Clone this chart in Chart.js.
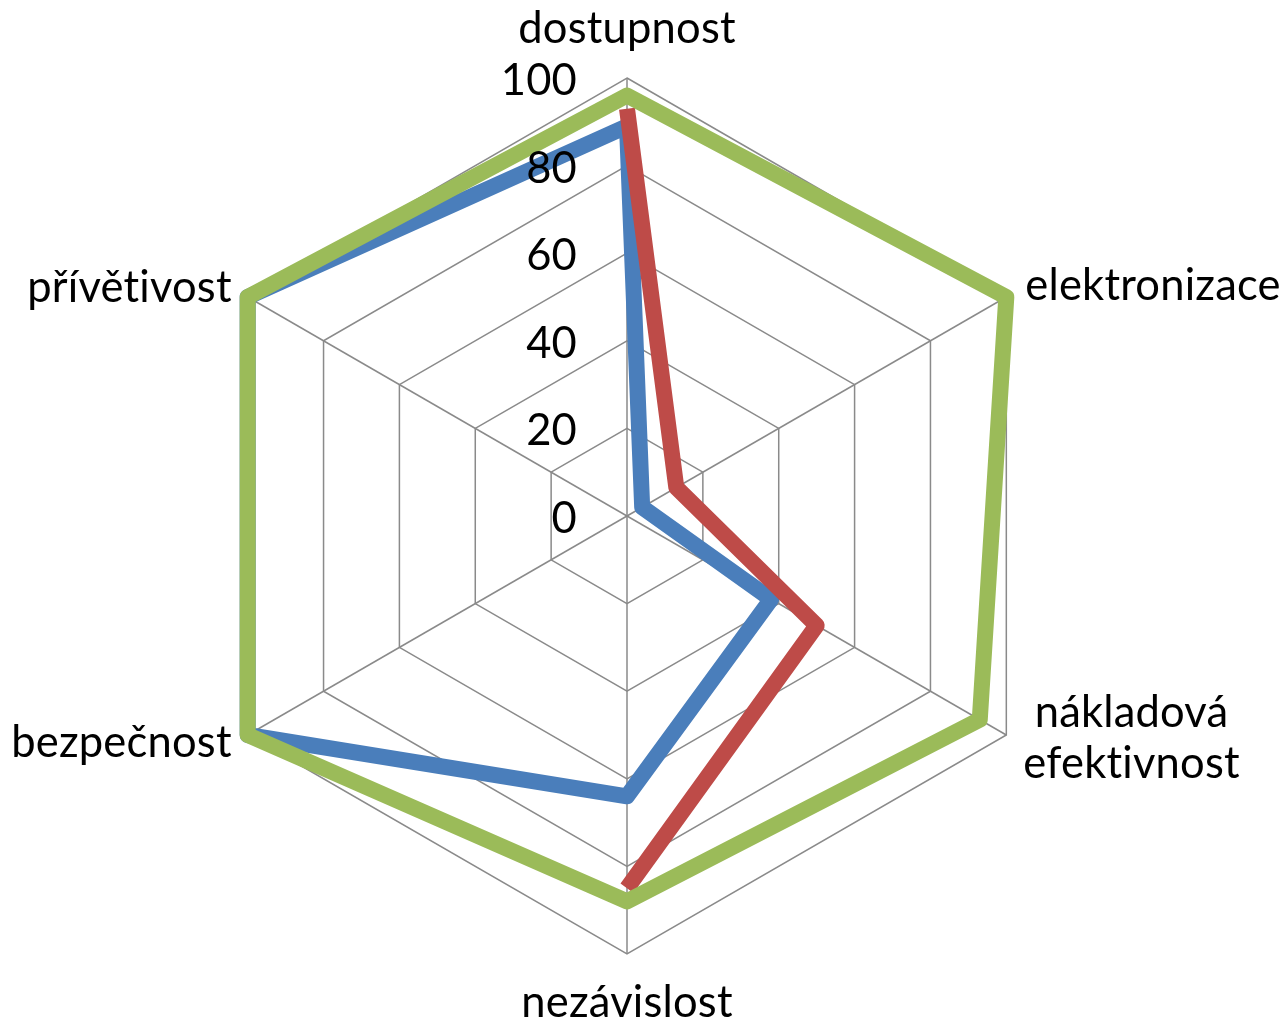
<!DOCTYPE html>
<html>
<head>
<meta charset="utf-8">
<script src="https://cdn.jsdelivr.net/npm/chart.js@4/dist/chart.umd.min.js"></script>
<style>
html,body{margin:0;padding:0;background:#fff;}
#wrap{width:1288px;height:1031px;}
</style>
</head>
<body>
<div id="wrap"><canvas id="c" width="1288" height="1031"></canvas></div>
<script>
const categories = ["dostupnost", "elektronizace", ["nákladová", "efektivnost"], "nezávislost", "bezpečnost", "přívětivost"];
const seriesBlue = [89, 4, 38, 64, 100, 100];
const seriesRed = [93, 13, 50, 85, null, null];
const seriesGreen = [96, 100, 93, 88, 100, 100];
const tickValues = [0, 20, 40, 60, 80, 100];

const FONT = "Lato, 'Noto Sans', sans-serif";
const FS = 43.5;

const labelPlugin = {
  id: 'customLabels',
  afterDraw(chart) {
    const s = chart.scales.r;
    const ctx = chart.ctx;
    ctx.save();
    ctx.fillStyle = '#000';
    ctx.font = FS + 'px ' + FONT;
    if ('letterSpacing' in ctx) ctx.letterSpacing = '0.2px';
    // tick labels
    ctx.textAlign = 'right';
    ctx.textBaseline = 'middle';
    tickValues.forEach(v => {
      const d = s.getDistanceFromCenterForValue(v);
      ctx.fillText(String(v), s.xCenter - 50, s.yCenter - d + 3);
    });
    // point labels
    const R = s.drawingArea;
    const offs = [
      {dx: 0, dy: -35, align: 'center'},
      {dx: 19, dy: 3, align: 'left'},
      {dx: 17, dy: -8, align: 'center-block'},
      {dx: 0, dy: 63, align: 'center'},
      {dx: -16, dy: 22, align: 'right'},
      {dx: -16, dy: 5, align: 'right'}
    ];
    ctx.textBaseline = 'alphabetic';
    categories.forEach((lab, i) => {
      const p = s.getPointPosition(i, R);
      const o = offs[i];
      const lines = Array.isArray(lab) ? lab : [lab];
      if (o.align === 'center-block') {
        const w = Math.max(...lines.map(l => ctx.measureText(l).width));
        ctx.textAlign = 'center';
        lines.forEach((l, k) => ctx.fillText(l, p.x + o.dx + w / 2, p.y + o.dy + k * 51));
      } else {
        ctx.textAlign = o.align;
        lines.forEach((l, k) => ctx.fillText(l, p.x + o.dx, p.y + o.dy + k * 51));
      }
    });
    ctx.restore();
  }
};

const common = {borderWidth: 16, pointRadius: 0, pointHoverRadius: 0, fill: false, tension: 0, borderJoinStyle: 'round', borderCapStyle: 'butt', spanGaps: false};

new Chart(document.getElementById('c'), {
  type: 'radar',
  data: {
    labels: categories,
    datasets: [
      Object.assign({label: 'A', data: seriesBlue, borderColor: '#4A7EBB', order: 3}, common),
      Object.assign({label: 'B', data: seriesRed, borderColor: '#BE4B48', order: 2}, common),
      Object.assign({label: 'C', data: seriesGreen, borderColor: '#9BBB59', order: 1}, common)
    ]
  },
  options: {
    responsive: false,
    animation: false,
    layout: {padding: {left: 189, right: 223, top: 78, bottom: 77}},
    plugins: {legend: {display: false}, tooltip: {enabled: false}},
    scales: {
      r: {
        min: 0, max: 100,
        ticks: {stepSize: 20, display: false},
        grid: {circular: false, color: '#8A8A8A', lineWidth: 1.5},
        angleLines: {color: '#8A8A8A', lineWidth: 1.5},
        pointLabels: {display: false}
      }
    }
  },
  plugins: [labelPlugin]
});
</script>
</body>
</html>
